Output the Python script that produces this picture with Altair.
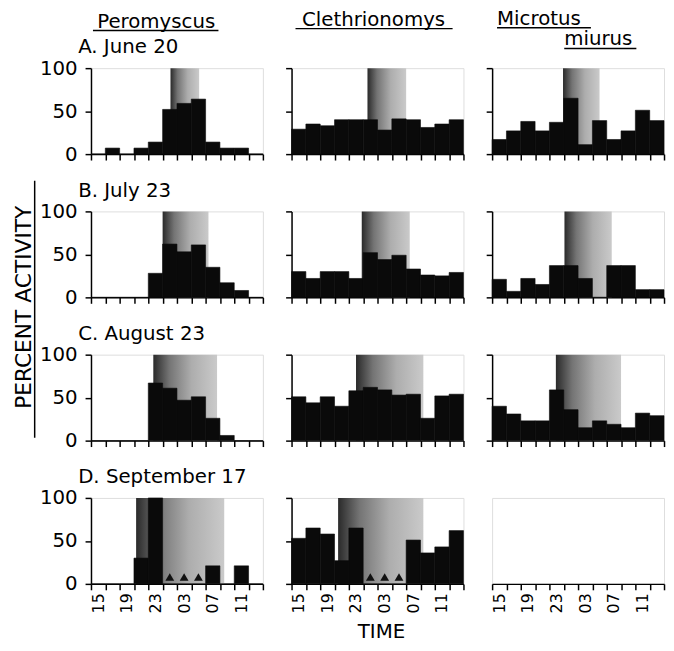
import altair as alt
import pandas as pd

# ---------------- data ----------------
bin_starts = [0, 2, 4, 6, 8, 10, 12, 14, 16, 18, 20, 22]   # hours after 15:00, 2-h bins
tick_labels = ["15", "19", "23", "03", "07", "11"]
species = ["Peromyscus", "Clethrionomys", "Microtus", "miurus"]
row_titles = ["A. June 20", "B. July 23", "C. August 23", "D. September 17"]

pero_jun = [0, 7, 0, 7, 14, 52, 59, 64, 14, 7, 7, 0]
pero_jul = [0, 0, 0, 0, 28, 62, 53, 61, 35, 17, 8, 0]
pero_aug = [0, 0, 0, 0, 67, 61, 47, 51, 26, 6, 0, 0]
pero_sep = [0, 0, 0, 30, 100, 0, 0, 0, 21, 0, 21, 0]

cleth_jun = [29, 35, 33, 40, 40, 40, 28, 41, 40, 31, 35, 40]
cleth_jul = [30, 22, 30, 30, 22, 52, 44, 49, 33, 26, 25, 29]
cleth_aug = [51, 44, 51, 40, 58, 62, 59, 53, 54, 26, 52, 54]
cleth_sep = [53, 65, 58, 27, 65, 0, 0, 0, 51, 36, 43, 62]

micro_jun = [17, 27, 38, 27, 37, 65, 11, 39, 17, 27, 51, 39]
micro_jul = [21, 7, 22, 15, 37, 37, 22, 0, 37, 37, 9, 9]
micro_aug = [40, 31, 23, 23, 59, 36, 15, 23, 19, 15, 32, 29]
micro_sep = [0, 0, 0, 0, 0, 0, 0, 0, 0, 0, 0, 0]

# darkness period (hours after 15:00)
dark_start_pero = [11.1, 10.0, 8.7, 6.3]
dark_end_pero = [15.1, 16.4, 17.6, 18.6]
dark_start_cleth = [10.6, 9.8, 9.0, 6.5]
dark_end_cleth = [16.0, 16.5, 18.4, 18.4]
dark_start_micro = [9.9, 10.1, 8.9, None]
dark_end_micro = [15.0, 16.7, 18.0, None]

# September 17 small triangle marks (bins starting at 01, 03, 05 h)
trace_bins = [10, 12, 14]
trace_level = [8, 8, 8]

# ---------------- helpers ----------------
W, H = 174, 87
BIN = 2
FONT = "DejaVu Sans"

xs = alt.Scale(domain=[0, 24], nice=False, zero=False)
ys = alt.Scale(domain=[0, 100], nice=False)

lab_arr = []
for i in range(13):
    if i % 2 == 0 and i // 2 < len(tick_labels):
        lab_arr.append("'" + tick_labels[i // 2] + "'")
    else:
        lab_arr.append("''")
label_expr = "[" + ",".join(lab_arr) + "][round(datum.value / 2)]"

grad = alt.LinearGradient(
    gradient="linear",
    stops=[
        alt.GradientStop(color="#2a2a2a", offset=0),
        alt.GradientStop(color="#747474", offset=0.25),
        alt.GradientStop(color="#adadad", offset=0.6),
        alt.GradientStop(color="#cacaca", offset=1),
    ],
    x1=0, x2=1, y1=0, y2=0,
)


def text_layer(t, x, y, size, align="left", angle=0, baseline="alphabetic"):
    return alt.Chart(pd.DataFrame({"t": [t]})).mark_text(
        align=align, baseline=baseline, fontSize=size, font=FONT, color="black", angle=angle
    ).encode(x=alt.value(x), y=alt.value(y), text="t:N")


def hrule(x1, x2, y):
    return alt.Chart(pd.DataFrame({"a": [0]})).mark_rule(color="black", strokeWidth=1.5).encode(
        x=alt.value(x1), x2=alt.value(x2), y=alt.value(y))


def vrule(x, y1, y2):
    return alt.Chart(pd.DataFrame({"a": [0]})).mark_rule(color="black", strokeWidth=1.5).encode(
        x=alt.value(x), y=alt.value(y1), y2=alt.value(y2))


def panel(values, s0, s1, col, row, extras=(), traces=False, empty=False):
    xax = alt.Axis(
        values=list(range(0, 25, 2)), tickSize=6, tickWidth=1.5, tickColor="black",
        domainWidth=1.5, domainColor="black", grid=False, title=None,
        labels=(row == 3), labelExpr=label_expr, labelAngle=270, labelOffset=W / 24,
        labelFontSize=16, labelFont=FONT, labelColor="black", labelPadding=3,
    )
    if empty:
        yax = alt.Axis(domain=False, ticks=False, labels=False, grid=False, title=None)
    else:
        yax = alt.Axis(
            values=[0, 50, 100], tickSize=6, tickWidth=1.5, tickColor="black",
            domainWidth=1.5, domainColor="black", grid=False, title=None,
            labels=(col == 0), labelFontSize=20, labelFont=FONT, labelColor="black",
            labelPadding=8,
        )
    df = pd.DataFrame({"x": bin_starts, "x2": [b + BIN for b in bin_starts], "v": values,
                       "zero": [0] * len(values)})
    layers = []
    if s0 is not None:
        sdf = pd.DataFrame({"s0": [s0], "s1": [s1], "top": [100], "bot": [0]})
        layers.append(alt.Chart(sdf).mark_rect(color=grad).encode(
            x=alt.X("s0:Q", scale=xs, axis=xax), x2="s1:Q",
            y=alt.Y("top:Q", scale=ys, axis=yax), y2="bot:Q"))
    layers.append(alt.Chart(df).mark_rect(color="#0a0a0a", stroke="#0a0a0a", strokeWidth=0.6,
                                          opacity=0 if empty else 1).encode(
        x=alt.X("x:Q", scale=xs, axis=xax), x2="x2:Q",
        y=alt.Y("v:Q", scale=ys, axis=yax), y2="zero:Q"))
    if traces:
        tdf = pd.DataFrame({"x": [b + BIN / 2 for b in trace_bins], "v": trace_level})
        layers.append(alt.Chart(tdf).mark_point(shape="triangle-up", filled=True, color="#111",
                                                size=80, opacity=1).encode(
            x=alt.X("x:Q", scale=xs, axis=xax), y=alt.Y("v:Q", scale=ys, axis=yax)))
    layers.extend(extras)
    return alt.layer(*layers).properties(width=W, height=H)


# ---------------- decorations ----------------
row_title_layers = [text_layer(t, -13, -15, 20) for t in row_titles]

pA = panel(pero_jun, dark_start_pero[0], dark_end_pero[0], 0, 0, extras=[
    row_title_layers[0],
    text_layer(species[0], 66, -41, 20, align="center"),
    hrule(2, 129, -38),
])
cA = panel(cleth_jun, dark_start_cleth[0], dark_end_cleth[0], 1, 0, extras=[
    text_layer(species[1], 83, -43, 20, align="center"),
    hrule(4, 163, -40),
])
mA = panel(micro_jun, dark_start_micro[0], dark_end_micro[0], 2, 0, extras=[
    text_layer(species[2], 5, -44, 20),
    hrule(5, 100, -41),
    text_layer(species[3], 73, -23, 20),
    hrule(73, 146, -20),
])

pB = panel(pero_jul, dark_start_pero[1], dark_end_pero[1], 0, 1, extras=[
    row_title_layers[1],
    text_layer("PERCENT ACTIVITY", -61, 97, 22, align="center", angle=270),
    vrule(-57, -31, 229),
])
cB = panel(cleth_jul, dark_start_cleth[1], dark_end_cleth[1], 1, 1)
mB = panel(micro_jul, dark_start_micro[1], dark_end_micro[1], 2, 1)

pC = panel(pero_aug, dark_start_pero[2], dark_end_pero[2], 0, 2, extras=[row_title_layers[2]])
cC = panel(cleth_aug, dark_start_cleth[2], dark_end_cleth[2], 1, 2)
mC = panel(micro_aug, dark_start_micro[2], dark_end_micro[2], 2, 2)

pD = panel(pero_sep, dark_start_pero[3], dark_end_pero[3], 0, 3, traces=True,
           extras=[row_title_layers[3]])
cD = panel(cleth_sep, dark_start_cleth[3], dark_end_cleth[3], 1, 3, traces=True, extras=[
    text_layer("TIME", 91, 142, 20, align="center"),
])
mD = panel(micro_sep, dark_start_micro[3], dark_end_micro[3], 2, 3, empty=True)

chart = alt.concat(
    pA, cA, mA, pB, cB, mB, pC, cC, mC, pD, cD, mD,
    columns=3,
    spacing={"row": 58, "column": 29},
    bounds="flush",
).properties(
    padding={"left": 4, "top": -4, "right": 0, "bottom": 0},
    background="white",
).configure_view(stroke=None).configure(font=FONT)

chart.save("out.html", embed_options={"renderer": "svg", "actions": False})
